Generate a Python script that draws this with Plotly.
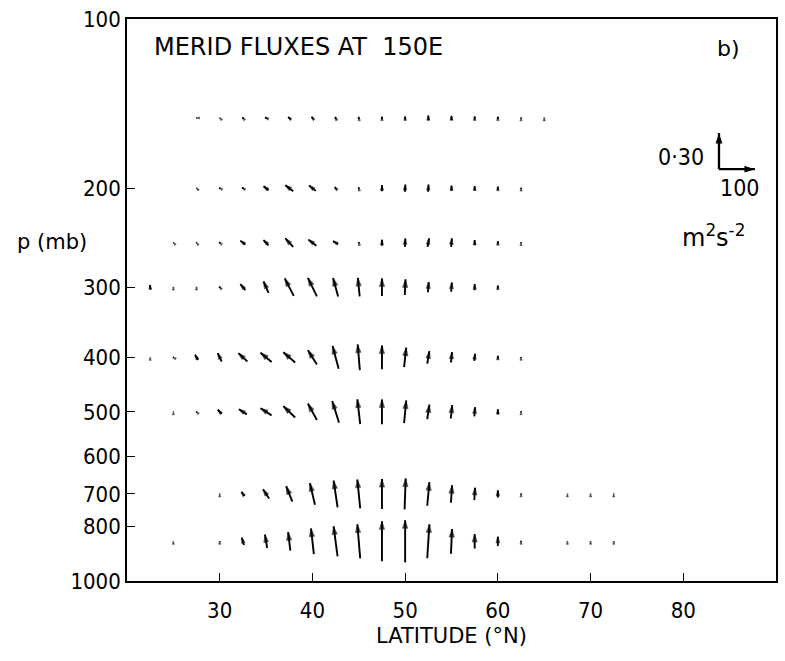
import math
import plotly.graph_objects as go

# ---------------- data ----------------
latitudes = [22.5, 25, 27.5, 30, 32.5, 35, 37.5, 40, 42.5, 45, 47.5, 50,
             52.5, 55, 57.5, 60, 62.5, 65, 67.5, 70, 72.5]
levels = [150, 200, 250, 300, 400, 500, 700, 850]

# horizontal component (m2 s-2), None = no vector
u_150 = [None, None, -1.4, -1, -3, -6, -6, -5, -3, -1, 0, 0, 0, 0, 0, 0, 0, 0, None, None, None]
v_150 = [None, None, 0.0, 0.003, 0.01, 0.009, 0.017, 0.017, 0.017, 0.017, 0.02, 0.026, 0.04, 0.035, 0.026, 0.02, 0.008, 0.005, None, None, None]

u_200 = [None, None, -1, -3, -5, -14, -22, -19, -5, -1, 0, 1, 1, 0, 0, 0, 0, None, None, None, None]
v_200 = [None, None, 0.003, 0.005, 0.01, 0.034, 0.05, 0.045, 0.017, 0.013, 0.05, 0.06, 0.06, 0.043, 0.035, 0.026, 0.008, None, None, None, None]

u_250 = [None, -1, -1, -3, -14, -14, -22, -22, -14, -1, 0, 1, 4, 2, 0, 0, 0, None, None, None, None]
v_250 = [None, 0.003, 0.004, 0.008, 0.03, 0.043, 0.07, 0.05, 0.026, 0.01, 0.05, 0.07, 0.07, 0.07, 0.043, 0.026, 0.008, None, None, None, None]

u_300 = [-1, 0, 0, -3, -14, -14, -25, -25, -14, -5, 0, 2, 2, 2, 0, 0, None, None, None, None, None]
v_300 = [0.035, 0.004, 0.004, 0.01, 0.05, 0.094, 0.146, 0.154, 0.154, 0.154, 0.146, 0.13, 0.086, 0.077, 0.05, 0.026, None, None, None, None, None]

u_400 = [0, -2, -8, -11, -25, -31, -33, -25, -17, -6, 0, 6, 6, 3, 2, 0, 0, None, None, None, None]
v_400 = [0.002, 0.004, 0.043, 0.07, 0.07, 0.077, 0.086, 0.12, 0.19, 0.214, 0.197, 0.163, 0.103, 0.086, 0.06, 0.026, 0.008, None, None, None, None]

u_500 = [None, 0, -2, -11, -22, -31, -33, -25, -19, -8, 0, 6, 6, 4, 2, 0, 0, None, None, None, None]
v_500 = [None, 0.003, 0.006, 0.034, 0.043, 0.06, 0.094, 0.137, 0.18, 0.206, 0.206, 0.189, 0.12, 0.111, 0.077, 0.043, 0.008, None, None, None, None]

u_700 = [None, None, None, 0, -8, -17, -17, -14, -11, -8, 0, 3, 6, 3, 2, 0, 0, None, 0, 0, 0]
v_700 = [None, None, None, 0.004, 0.034, 0.077, 0.129, 0.18, 0.223, 0.24, 0.249, 0.257, 0.197, 0.146, 0.103, 0.06, 0.008, None, 0.003, 0.004, 0.004]

u_850 = [None, 0, None, 0, -6, -6, -6, -8, -11, -8, 0, 0, 6, 3, 0, 0, 0, None, 0, 0, 0]
v_850 = [None, 0.002, None, 0.005, 0.06, 0.111, 0.154, 0.214, 0.249, 0.283, 0.334, 0.351, 0.283, 0.206, 0.12, 0.077, 0.008, None, 0.003, 0.004, 0.004]

u_rows = [u_150, u_200, u_250, u_300, u_400, u_500, u_700, u_850]
v_rows = [v_150, v_200, v_250, v_300, v_400, v_500, v_700, v_850]

x_ticks = [30, 40, 50, 60, 70, 80]
y_ticks = [100, 200, 300, 400, 500, 600, 700, 800, 1000]

U_REF = 100     # horizontal key value
V_REF = 0.30    # vertical key value

# ---------------- layout geometry ----------------
W, H = 785, 661
ML, MR, MT, MB = 127, 7, 19, 80
X_RANGE = [20, 90]
Y_RANGE_LOG = [3, 2]  # reversed log axis (1000 at bottom)
KEY_PX = 36           # on-screen length of the key arrows
KEY_LAT, KEY_P = 83.85, 185

plot_w = W - ML - MR
plot_h = H - MT - MB
px_per_deg = plot_w / (X_RANGE[1] - X_RANGE[0])
px_per_dec = plot_h / abs(Y_RANGE_LOG[0] - Y_RANGE_LOG[1])

FONT = "DejaVu Sans"
NUMFONT = "DejaVu Sans Condensed, Liberation Sans Narrow, DejaVu Sans"


def arrow(lat, p, u, v, centred=True):
    """Return tail, head (data coords), angle and on-screen length."""
    dx = u / U_REF * KEY_PX          # px to the right
    dy = v / V_REF * KEY_PX          # px upward
    f0, f1 = (-0.5, 0.5) if centred else (0.0, 1.0)
    lp = math.log10(p)
    tail = (lat + f0 * dx / px_per_deg, 10 ** (lp - f0 * dy / px_per_dec))
    head = (lat + f1 * dx / px_per_deg, 10 ** (lp - f1 * dy / px_per_dec))
    ang = math.degrees(math.atan2(dx, dy)) if (dx or dy) else 0.0
    return tail, head, ang, math.hypot(dx, dy)


lx, ly, hx, hy, hang, hsize = [], [], [], [], [], []
for p, urow, vrow in zip(levels, u_rows, v_rows):
    for lat, u, v in zip(latitudes, urow, vrow):
        if u is None or v is None:
            continue
        tail, head, ang, ln = arrow(lat, p, u, v)
        lx += [tail[0], head[0], None]
        ly += [tail[1], head[1], None]
        hx.append(head[0])
        hy.append(head[1])
        hang.append(ang)
        hsize.append(min(8.5, 3.2 + 0.35 * ln))

fig = go.Figure()
fig.add_trace(go.Scatter(x=lx, y=ly, mode="lines",
                         line=dict(color="black", width=1.9),
                         hoverinfo="skip", showlegend=False))
fig.add_trace(go.Scatter(x=hx, y=hy, mode="markers",
                         marker=dict(symbol="arrow", size=hsize, angle=hang,
                                     color="black", line=dict(width=0.6, color="black")),
                         hoverinfo="skip", showlegend=False))

# key arrows
kx, ky, khx, khy, kang = [], [], [], [], []
for u, v in [(0, V_REF), (U_REF, 0)]:
    tail, head, ang, ln = arrow(KEY_LAT, KEY_P, u, v, centred=False)
    kx += [tail[0], head[0], None]
    ky += [tail[1], head[1], None]
    khx.append(head[0])
    khy.append(head[1])
    kang.append(ang)
fig.add_trace(go.Scatter(x=kx, y=ky, mode="lines",
                         line=dict(color="black", width=2.3),
                         hoverinfo="skip", showlegend=False))
fig.add_trace(go.Scatter(x=khx, y=khy, mode="markers",
                         marker=dict(symbol="arrow", size=11, angle=kang,
                                     color="black", line=dict(width=0)),
                         hoverinfo="skip", showlegend=False))

annotations = [
    dict(text="MERID FLUXES AT  150E", x=0.038, y=0.950, xanchor="left",
         yanchor="middle", font=dict(family=FONT, size=24)),
    dict(text="b)", x=0.927, y=0.947, xanchor="center", yanchor="middle",
         font=dict(family=FONT, size=22)),
    dict(text="0·30", x=0.8925, y=0.754, xanchor="right", yanchor="middle",
         font=dict(family=NUMFONT, size=23)),
    dict(text="100", x=0.9447, y=0.699, xanchor="center", yanchor="middle",
         font=dict(family=NUMFONT, size=23)),
    dict(text="m<sup>2</sup>s<sup>-2</sup>", x=0.903, y=0.614, xanchor="center",
         yanchor="middle", font=dict(family=FONT, size=24)),
    dict(text="p (mb)", x=-0.115, y=0.603, xanchor="center", yanchor="middle",
         font=dict(family=FONT, size=21)),
]
for a in annotations:
    a.update(xref="paper", yref="paper", showarrow=False)
    a["font"]["color"] = "black"

fig.update_layout(
    width=W, height=H,
    margin=dict(l=ML, r=MR, t=MT, b=MB),
    paper_bgcolor="white", plot_bgcolor="white",
    showlegend=False,
    annotations=annotations,
    xaxis=dict(range=X_RANGE, tickvals=x_ticks, ticktext=[str(t) for t in x_ticks],
               ticks="inside", ticklen=8, tickwidth=1.4, tickcolor="black",
               showline=True, linecolor="black", linewidth=1.7, mirror=True,
               showgrid=False, zeroline=False, ticklabelstandoff=9,
               tickfont=dict(family=NUMFONT, size=22, color="black"),
               title=dict(text="LATITUDE (°N)", standoff=6,
                          font=dict(family=FONT, size=21, color="black"))),
    yaxis=dict(type="log", range=Y_RANGE_LOG, tickvals=y_ticks,
               ticktext=[str(t) for t in y_ticks],
               ticks="inside", ticklen=8, tickwidth=1.4, tickcolor="black",
               showline=True, linecolor="black", linewidth=1.7, mirror=True,
               showgrid=False, zeroline=False,
               tickfont=dict(family=NUMFONT, size=22, color="black")),
)

fig.write_html("out.html")
